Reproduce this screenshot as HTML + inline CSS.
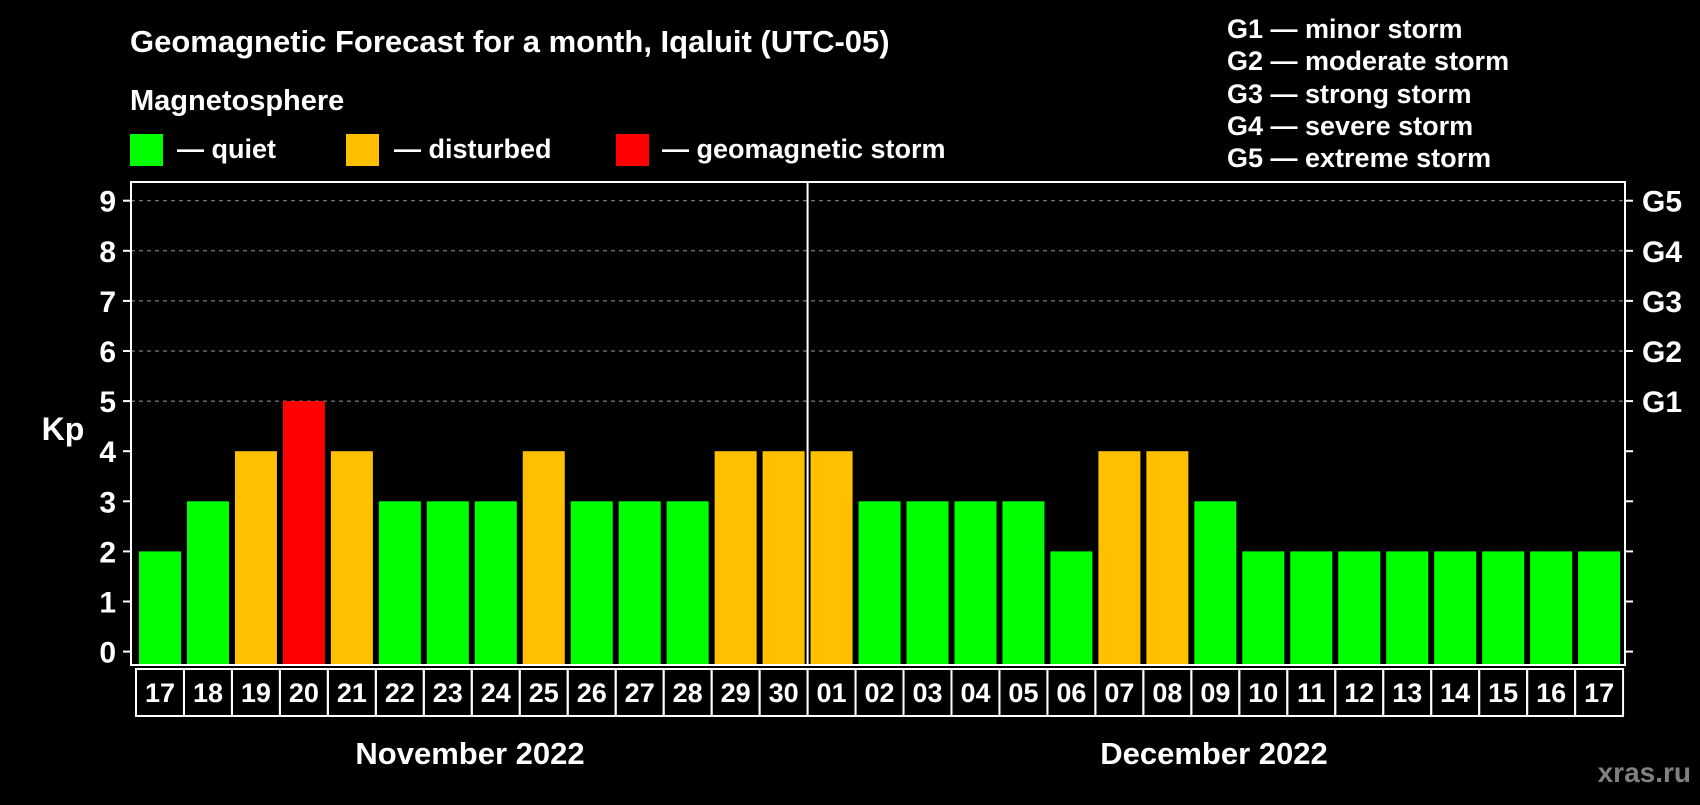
<!DOCTYPE html>
<html><head><meta charset="utf-8"><style>
body{margin:0;background:#000;width:1700px;height:800px;overflow:hidden;font-family:"Liberation Sans",sans-serif;font-weight:bold;color:#fff}
</style></head><body>
<svg width="1700" height="800" xmlns="http://www.w3.org/2000/svg" font-family="Liberation Sans, sans-serif" font-weight="bold">
<text x="130" y="52" font-size="31" fill="#fff">Geomagnetic Forecast for a month, Iqaluit (UTC-05)</text>
<text x="130" y="110" font-size="29" fill="#fff">Magnetosphere</text>
<rect x="130" y="134" width="33" height="32" fill="#00ff00"/>
<text x="177" y="158" font-size="27" fill="#fff">— quiet</text>
<rect x="346" y="134" width="33" height="32" fill="#ffc000"/>
<text x="394" y="158" font-size="27" fill="#fff">— disturbed</text>
<rect x="616" y="134" width="33" height="32" fill="#ff0000"/>
<text x="662" y="158" font-size="27" fill="#fff">— geomagnetic storm</text>
<g font-size="27" fill="#fff">
<text x="1227" y="38">G1 — minor storm</text>
<text x="1227" y="70">G2 — moderate storm</text>
<text x="1227" y="103">G3 — strong storm</text>
<text x="1227" y="135">G4 — severe storm</text>
<text x="1227" y="167">G5 — extreme storm</text>
</g>
<text x="63" y="440" font-size="32" fill="#fff" text-anchor="middle">Kp</text>
<g id="grid"></g><g id="bars"></g><g id="axes"></g>
<text x="470" y="764" font-size="31" fill="#fff" text-anchor="middle">November 2022</text>
<text x="1214" y="764" font-size="31" fill="#fff" text-anchor="middle">December 2022</text>
<text x="1691" y="782" font-size="28" fill="#808080" text-anchor="end">xras.ru</text>
</svg>
<script>
const days=["17","18","19","20","21","22","23","24","25","26","27","28","29","30","01","02","03","04","05","06","07","08","09","10","11","12","13","14","15","16","17"];
const kp=[2,3,4,5,4,3,3,3,4,3,3,3,4,4,4,3,3,3,3,2,4,4,3,2,2,2,2,2,2,2,2];
const yTicks=[0,1,2,3,4,5,6,7,8,9];
const gLabels=["G1","G2","G3","G4","G5"];
const NS="http://www.w3.org/2000/svg";
const L=131,R=1625,T=182,B=665,X0=139,P=47.97,BW=42;
const y=v=>651.6-v*50.1;
const x=i=>X0+i*P;
function mk(t,a,p){const e=document.createElementNS(NS,t);for(const k in a)e.setAttribute(k,a[k]);p.appendChild(e);return e;}
const grid=document.getElementById('grid'),bars=document.getElementById('bars'),axes=document.getElementById('axes');
yTicks.forEach(v=>{
 if(v>=5){const g=mk('line',{x1:L,x2:R,y1:y(v),y2:y(v),stroke:'#999','stroke-dasharray':'4,4','stroke-width':1},grid);
 
 }
 mk('line',{x1:L-8,x2:L,y1:y(v),y2:y(v),stroke:'#fff','stroke-width':2},axes);
 mk('line',{x1:R,x2:R+8,y1:y(v),y2:y(v),stroke:'#fff','stroke-width':2},axes);
 const t=mk('text',{x:116,y:y(v)+11,'font-size':30,fill:'#fff','text-anchor':'end'},axes);t.textContent=v;
 
 
});
gLabels.forEach((g,i)=>{const t=mk('text',{x:1642,y:y(5+i)+11,'font-size':30,fill:'#fff'},axes);t.textContent=g;
 
 });
kp.forEach((v,i)=>{
 const c=v>=5?'#ff0000':v>=4?'#ffc000':'#00ff00';
 const r=mk('rect',{x:x(i),y:y(v),width:BW,height:B-1-y(v),fill:c},bars);
 
 
 const bx=mk('rect',{x:x(i)-3,y:669,width:P,height:47,fill:'none',stroke:'#fff','stroke-width':2},axes);
 
 
 const t=mk('text',{x:x(i)+BW/2,y:702,'font-size':27,fill:'#fff','text-anchor':'middle'},axes);t.textContent=days[i];
 
 
});
const fr=mk('rect',{x:L,y:T,width:R-L,height:B-T,fill:'none',stroke:'#fff','stroke-width':2},axes);


const sep=mk('line',{x1:x(14)-3,x2:x(14)-3,y1:T,y2:B,stroke:'#fff','stroke-width':2},axes);


</script>
</body></html>
